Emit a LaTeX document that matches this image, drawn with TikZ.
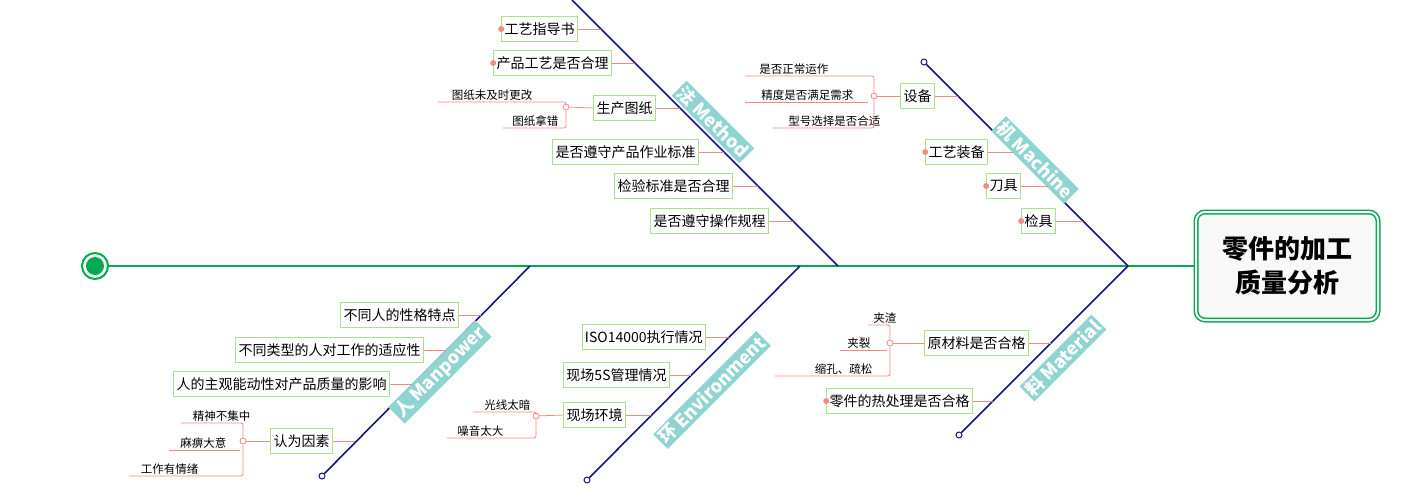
\documentclass[tikz,border=0pt]{standalone}
\usepackage{fontspec}
\setmainfont{Noto Sans CJK SC}
\begin{document}
\begin{tikzpicture}[x=1pt,y=-1pt,
  bone/.style={draw={rgb,255:red,20;green,20;blue,140},line width=1.6pt},
  br/.style={draw={rgb,255:red,240;green,140;blue,130},line width=0.8pt},
  box/.style={draw={rgb,255:red,170;green,225;blue,140},line width=0.8pt,fill=white,anchor=east,inner xsep=3pt,minimum height=25pt,font=\fontsize{14}{16}\selectfont},
  sub/.style={anchor=south east,inner sep=1.5pt,font=\fontsize{11.5}{13}\selectfont},
  lab/.style={fill={rgb,255:red,143;green,212;blue,208},text=white,font=\bfseries\fontsize{18}{20}\selectfont,inner sep=2pt},
  knot/.style={circle,draw={rgb,255:red,240;green,140;blue,130},fill=white,line width=0.8pt,inner sep=0pt,minimum size=6pt},
  dotmark/.style={circle,fill={rgb,255:red,240;green,140;blue,130},inner sep=0pt,minimum size=6pt},
  endc/.style={circle,draw={rgb,255:red,20;green,20;blue,140},fill=white,line width=1pt,inner sep=0pt,minimum size=6pt}]
\useasboundingbox (0,0) rectangle (1404,490);
\definecolor{sp}{RGB}{0,170,80}
% spine
\coordinate (mEnd) at (838,266);
\coordinate (hEnd) at (1128,266);
\node[circle,draw=sp,line width=2pt,fill=white,minimum size=26pt,inner sep=0pt] (tail) at (95,266) {};
\node[circle,fill=sp,minimum size=18pt,inner sep=0pt] at (95,266) {};
\node[draw=sp,double=white,double distance=2pt,line width=1.5pt,rounded corners=9pt,fill={rgb,255:red,248;green,248;blue,248},minimum width=182pt,minimum height=108pt,align=center,font=\bfseries\fontsize{26}{34}\selectfont] (head) at (1287,266) {零件的加工\\质量分析};
\draw[sp,line width=2.6pt] (tail.east) -- (head.west);
% bones
\coordinate (mTop) at (572,0);
\node[endc] (maTop) at (924,62) {};
\node[endc] (mpEnd) at (322,476) {};
\node[endc] (enEnd) at (587,480) {};
\node[endc] (mtEnd) at (959,435) {};
\draw[bone] (mTop) -- (mEnd);
\draw[bone] (maTop) -- (hEnd);
\draw[bone] (530,266) -- (mpEnd);
\draw[bone] (800,266) -- (enEnd);
\draw[bone] (hEnd) -- (mtEnd);
\node[lab,rotate=-45] (lm) at (713,122) {法 Method};
\node[lab,rotate=-45] (lma) at (1035,160) {机 Machine};
\node[lab,rotate=45] (lmp) at (440,372) {人 Manpower};
\node[lab,rotate=45] (len) at (712,390) {环 Environment};
\node[lab,rotate=45] (lmt) at (1063,358) {料 Material};
% Method
\node[box] (a1) at (578,29) {工艺指导书}; \draw[br] (a1.east) -- (601,29); \node[dotmark] at (a1.west) {};
\node[box] (a2) at (612,63) {产品工艺是否合理}; \draw[br] (a2.east) -- (635,63); \node[dotmark] at (a2.west) {};
\node[box] (a3) at (656,108) {生产图纸}; \draw[br] (a3.east) -- (680,108);
\node[box] (a4) at (699,152) {是否遵守产品作业标准}; \draw[br] (a4.east) -- (724,152);
\node[box] (a5) at (733,186) {检验标准是否合理}; \draw[br] (a5.east) -- (758,186);
\node[box] (a6) at (769,221) {是否遵守操作规程}; \draw[br] (a6.east) -- (793,221);
\node[knot] (k3) at (566,107) {};
\draw[br] (k3) -- (a3.west);
\node[sub] (s31) at (534,102) {图纸未及时更改};
\node[sub] (s32) at (560,128) {图纸拿错};
\draw[br,rounded corners=2pt] (438,102) -- (566,102) -- (k3);
\draw[br,rounded corners=2pt] (503,128) -- (566,128) -- (k3);
% Machine
\node[box] (b1) at (935,96) {设备}; \draw[br] (b1.east) -- (958,96);
\node[box] (b2) at (988,152) {工艺装备}; \draw[br] (b2.east) -- (1014,152); \node[dotmark] at (b2.west) {};
\node[box] (b3) at (1021,186) {刀具}; \draw[br] (b3.east) -- (1048,186); \node[dotmark] at (b3.west) {};
\node[box] (b4) at (1056,221) {检具}; \draw[br] (b4.east) -- (1083,221); \node[dotmark] at (b4.west) {};
\node[knot] (k1) at (874,96) {};
\draw[br] (k1) -- (b1.west);
\node[sub] (s11) at (830,76) {是否正常运作};
\node[sub] (s12) at (855,102) {精度是否满足需求};
\node[sub] (s13) at (882,128) {型号选择是否合适};
\draw[br,rounded corners=2pt] (745,76) -- (874,76) -- (k1);
\draw[br] (745,102) -- (868,102);
\draw[br,rounded corners=2pt] (773,128) -- (874,128) -- (k1);
% Manpower
\node[box] (c1) at (459,315) {不同人的性格特点}; \draw[br] (c1.east) -- (481,315);
\node[box] (c2) at (424,350) {不同类型的人对工作的适应性}; \draw[br] (c2.east) -- (446,350);
\node[box] (c3) at (390,384) {人的主观能动性对产品质量的影响}; \draw[br] (c3.east) -- (412,384);
\node[box] (c4) at (333,441) {认为因素}; \draw[br] (c4.east) -- (355,441);
\node[knot] (k4) at (243,441) {};
\draw[br] (k4) -- (c4.west);
\node[sub] (s41) at (252,423) {精神不集中};
\node[sub] (s42) at (228,450) {麻痹大意};
\node[sub] (s43) at (200,476) {工作有情绪};
\draw[br,rounded corners=2pt] (181,423) -- (243,423) -- (k4);
\draw[br] (169,450) -- (240,450);
\draw[br,rounded corners=2pt] (129,476) -- (243,476) -- (k4);
% Environment
\node[box] (d1) at (706,337) {ISO14000执行情况}; \draw[br] (d1.east) -- (729,337);
\node[box] (d2) at (670,375) {现场5S管理情况}; \draw[br] (d2.east) -- (691,375);
\node[box] (d3) at (626,415) {现场环境}; \draw[br] (d3.east) -- (651,415);
\node[knot] (k5) at (536,416) {};
\draw[br] (k5) -- (d3.west);
\node[sub] (s51) at (532,412) {光线太暗};
\node[sub] (s52) at (505,438) {噪音太大};
\draw[br,rounded corners=2pt] (473,412) -- (536,412) -- (k5);
\draw[br,rounded corners=2pt] (447,438) -- (536,438) -- (k5);
% Material
\node[box] (e1) at (1029,343) {原材料是否合格}; \draw[br] (e1.east) -- (1051,343);
\node[box] (e2) at (973,401) {零件的热处理是否合格}; \draw[br] (e2.east) -- (993,401); \node[dotmark] at (e2.west) {};
\node[knot] (k6) at (890,343) {};
\draw[br] (k6) -- (e1.west);
\node[sub] (s61) at (898,325) {夹渣};
\node[sub] (s62) at (872,350) {夹裂};
\node[sub] (s63) at (874,376) {缩孔、疏松};
\draw[br,rounded corners=2pt] (868,325) -- (890,325) -- (k6);
\draw[br] (840,350) -- (887,350);
\draw[br,rounded corners=2pt] (775,376) -- (890,376) -- (k6);
\end{tikzpicture}
\end{document}
